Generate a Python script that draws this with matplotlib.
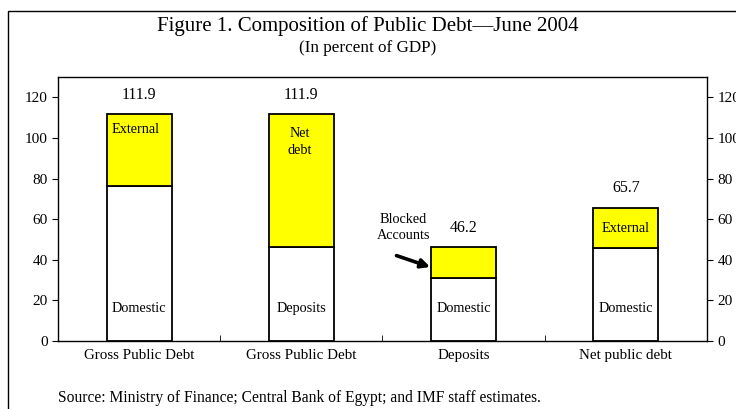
import matplotlib
matplotlib.use("Agg")
import matplotlib.pyplot as plt
from matplotlib.patches import Rectangle

# composition of public debt, percent of GDP
categories = ["Gross Public Debt", "Gross Public Debt", "Deposits", "Net public debt"]
lower = [76.2, 46.2, 31.0, 45.7]
upper = [35.7, 65.7, 15.2, 20.0]
totals = [111.9, 111.9, 46.2, 65.7]
lower_labels = ["Domestic", "Deposits", "Domestic", "Domestic"]
upper_labels = ["External", "Net\ndebt", "", "External"]
yticks = [0, 20, 40, 60, 80, 100, 120]

plt.rcParams["font.family"] = ["Liberation Serif", "DejaVu Serif"]

fig = plt.figure(figsize=(7.36, 4.09), dpi=100)
ax = fig.add_axes([58 / 736, 1 - 341 / 409, 649 / 736, 264 / 409])

x = range(len(categories))
ax.bar(x, lower, width=0.4, color="white", edgecolor="black", lw=1.3)
ax.bar(x, upper, width=0.4, bottom=lower, color="#ffff00", edgecolor="black", lw=1.3)

for i in x:
    ax.text(i, totals[i] + 5.5, f"{totals[i]:.1f}", ha="center", va="bottom", fontsize=11.5)
    ax.text(i, 16, lower_labels[i], ha="center", va="center", fontsize=10.3)

ax.text(-0.02, 104, upper_labels[0], ha="center", va="center", fontsize=10.3)
ax.text(0.99, 98, upper_labels[1], ha="center", va="center", fontsize=10.3, linespacing=1.4)
ax.text(3, 55.5, upper_labels[3], ha="center", va="center", fontsize=10.3)

# blocked accounts callout
ax.text(1.63, 56, "Blocked\nAccounts", ha="center", va="center", fontsize=10.3,
        linespacing=1.35)
ax.annotate("", xy=(1.81, 36), xytext=(1.57, 42.5),
            arrowprops=dict(arrowstyle="-|>", color="black", lw=2.6, mutation_scale=13))

ax.set_xlim(-0.5, 3.5)
ax.set_ylim(0, 130)
ax.set_xticks(list(x))
ax.set_xticklabels(categories, fontsize=10.8)
ax.set_xticks([0.5, 1.5, 2.5], minor=True)
ax.tick_params(axis="x", which="major", length=0, pad=6)
ax.tick_params(axis="x", which="minor", direction="in", length=4)
ax.set_yticks(yticks)
ax.tick_params(axis="y", which="both", direction="out", length=4, labelsize=11,
               left=True, right=True, labelleft=True, labelright=True)
for s in ax.spines.values():
    s.set_linewidth(1.0)

fig.text(0.5, 1 - 26 / 409, "Figure 1. Composition of Public Debt\u2014June 2004",
         ha="center", va="center", fontsize=15)
fig.text(0.5, 1 - 48 / 409, "(In percent of GDP)", ha="center", va="center", fontsize=12.3)
fig.text(58 / 736, 1 - 398 / 409,
         "Source: Ministry of Finance; Central Bank of Egypt; and IMF staff estimates.",
         ha="left", va="center", fontsize=11.2)

# outer frame running off the right and bottom edges
fig.patches.append(Rectangle((8 / 736, -0.1), 1.0, 1 - 11 / 409 + 0.1,
                             transform=fig.transFigure, fill=False,
                             edgecolor="black", lw=1.0))

fig.savefig("out.png", dpi=100)
